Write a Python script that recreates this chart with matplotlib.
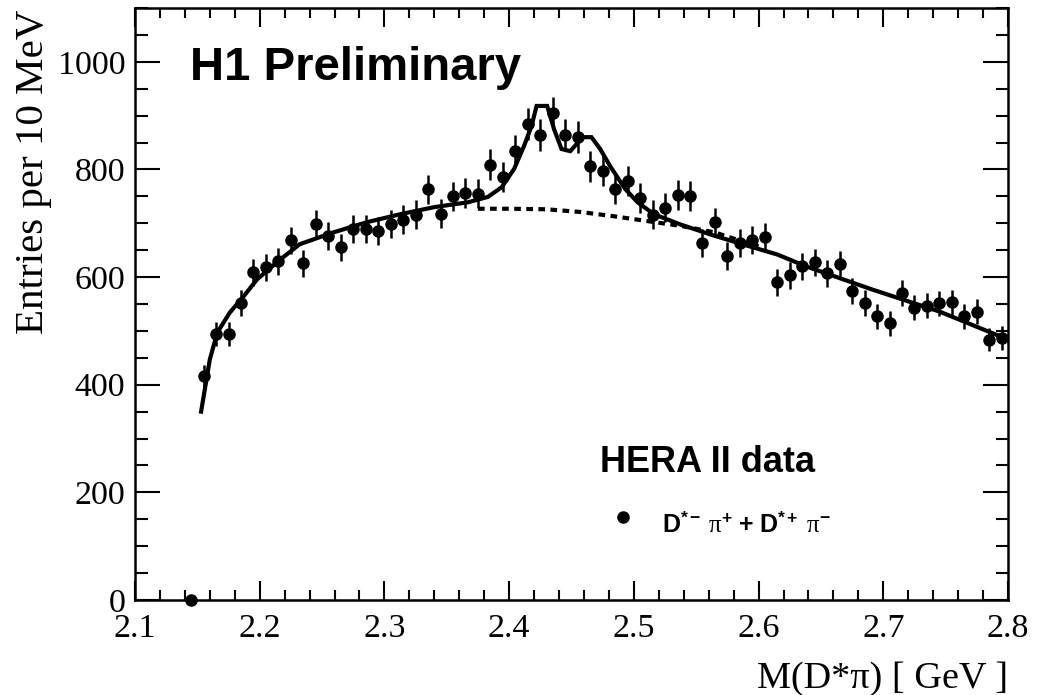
import numpy as np
import matplotlib
matplotlib.use("Agg")
import matplotlib.pyplot as plt
from matplotlib.ticker import MultipleLocator

plt.rcParams['mathtext.fontset'] = 'custom'
plt.rcParams['mathtext.rm'] = 'Liberation Serif'
plt.rcParams['mathtext.it'] = 'Liberation Serif:italic'
plt.rcParams['mathtext.bf'] = 'Liberation Sans:bold'

# ---- data ----
bin_centers = np.round(2.145 + 0.01 * np.arange(66), 3)
counts = [0, 417, 495, 495, 552, 609, 618, 629, 668, 626,
          699, 677, 655, 689, 689, 686, 699, 707, 716, 763,
          718, 750, 756, 755, 809, 786, 835, 885, 864, 904,
          864, 860, 806, 797, 764, 779, 747, 716, 729, 753,
          751, 664, 702, 639, 664, 669, 675, 590, 603, 620,
          628, 607, 624, 574, 552, 527, 514, 571, 543, 547,
          551, 553, 527, 536, 484, 487]
errors = np.sqrt(np.array(counts, dtype=float))

fit_x = [2.153, 2.160, 2.166, 2.176, 2.187, 2.198, 2.215, 2.232, 2.259, 2.286,
         2.313, 2.340, 2.367, 2.383, 2.394, 2.404, 2.412, 2.418, 2.422, 2.4305,
         2.436, 2.442, 2.449, 2.459, 2.466, 2.473, 2.481, 2.493, 2.503, 2.516,
         2.537, 2.563, 2.590, 2.615, 2.638, 2.691, 2.745, 2.800]
fit_y = [350, 447, 497, 534, 564, 596, 630, 661, 683, 702,
         717, 730, 739, 749, 767, 801, 844, 881, 918, 918,
         875, 838, 834, 860, 860, 838, 806, 764, 739, 717,
         698, 678, 659, 642, 620, 577, 536, 484]

bg_x = [2.375, 2.40, 2.43, 2.457, 2.484, 2.511, 2.538, 2.565, 2.590, 2.60]
bg_y = [727, 727, 726, 721, 713, 704, 695, 683, 664, 657]

x_ticks = [2.1, 2.2, 2.3, 2.4, 2.5, 2.6, 2.7, 2.8]
x_tick_labels = ['2.1', '2.2', '2.3', '2.4', '2.5', '2.6', '2.7', '2.8']
y_ticks = [0, 200, 400, 600, 800, 1000]
y_tick_labels = ['0', '200', '400', '600', '800', '1000']

# ---- figure ----
W, H = 1047, 695
fig = plt.figure(figsize=(W / 100, H / 100), dpi=100)
ax = fig.add_axes([135 / W, 1 - 600 / H, (1008 - 135) / W, (600 - 8) / H])

ax.errorbar(bin_centers, counts, yerr=errors, fmt='o', color='black',
            markersize=8, elinewidth=1.8, capsize=0, clip_on=False, zorder=3)
ax.plot(fit_x, fit_y, color='black', lw=3.0, solid_joinstyle='miter', zorder=2)
ax.plot(bg_x, bg_y, color='black', lw=3.0, ls=(0, (1.6, 1.3)), zorder=2)

ax.set_xlim(2.1, 2.8)
ax.set_ylim(0, 1100)
ax.set_xticks(x_ticks)
ax.set_xticklabels(x_tick_labels)
ax.set_yticks(y_ticks)
ax.set_yticklabels(y_tick_labels)
ax.xaxis.set_minor_locator(MultipleLocator(0.02))
ax.yaxis.set_minor_locator(MultipleLocator(50))
ax.tick_params(which='both', direction='in', top=True, right=True, width=1.5, colors='black')
ax.tick_params(axis='y', which='major', length=18, pad=7)
ax.tick_params(axis='y', which='minor', length=9)
ax.tick_params(axis='x', which='major', length=14, pad=10)
ax.tick_params(axis='x', which='minor', length=7)
for lab in ax.get_xticklabels() + ax.get_yticklabels():
    lab.set_fontfamily('Liberation Serif')
    lab.set_fontsize(24.5)
for s in ax.spines.values():
    s.set_linewidth(1.8)

fig.text(34 / W, 1 - 10 / H, 'Entries per 10 MeV', rotation=90, ha='center', va='top',
         fontsize=29.5, family='Liberation Serif')
fig.text(1008 / W, 1 - 688 / H, 'M(D*π) [ GeV ]', ha='right', va='baseline',
         fontsize=27.5, family='Liberation Serif')

fig.text(190 / W, 1 - 80 / H, 'H1 Preliminary', ha='left', va='baseline',
         fontsize=34, fontweight='bold', family='Liberation Sans')
fig.text(600 / W, 1 - 472 / H, 'HERA II data', ha='left', va='baseline',
         fontsize=26, fontweight='bold', family='Liberation Sans')
ax.plot([2.1 + (623 - 135) / 873 * 0.7], [(600 - 517) / 592 * 1100], 'o', color='black',
        markersize=8, clip_on=False)
fig.text(662 / W, 1 - 532 / H,
         r'$\mathbf{D}^{\mathbf{*-}}\ \mathrm{\pi}^{\mathbf{+}}\ \mathbf{+}\ \mathbf{D}^{\mathbf{*+}}\ \mathrm{\pi}^{\mathbf{-}}$',
         ha='left', va='baseline', fontsize=18)

fig.savefig('out.png', dpi=100)
